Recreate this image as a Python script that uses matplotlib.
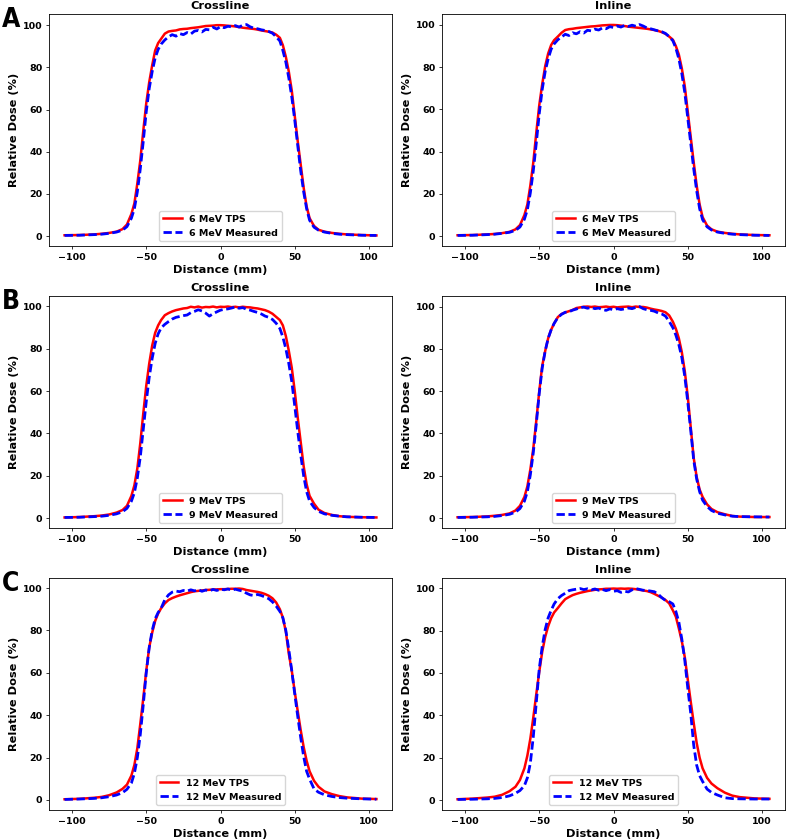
import matplotlib
matplotlib.use("Agg")
import matplotlib.pyplot as plt
from matplotlib import font_manager

# distance grid (mm) shared by every profile
dist_mm = [-105, -95, -85, -80, -75, -70, -66, -63, -60, -58, -56, -54, -52, -50, -48, -46, -44, -42, -40,
           -37.5, -35, -32.5, -30, -27.5, -25, -22.5, -20, -17.5, -15, -12.5, -10, -7.5, -5, -2.5, 0,
           2.5, 5, 7.5, 10, 12.5, 15, 17.5, 20, 22.5, 25, 27.5, 30, 32.5, 35, 37.5,
           40, 42, 44, 46, 48, 50, 52, 54, 56, 58, 60, 63, 66, 70, 75, 80, 85, 95, 105]

# 6 MeV
tps6_cross = [0.4, 0.5, 0.8, 1.1, 1.5, 2.1, 3.3, 5.5, 10.5, 15.5, 25, 36, 50, 63, 73, 81, 88, 91.5, 93.5,
              96, 97, 97.3, 97.5, 98, 98.2, 98.3, 98.6, 98.8, 99, 99.3, 99.6, 99.7, 99.8, 100, 100,
              99.9, 99.7, 99.6, 99.4, 99.1, 98.8, 98.6, 98.4, 98.2, 97.9, 97.5, 97.2, 96.9, 96.5, 95.5,
              94, 90.5, 85, 78, 69, 57, 45, 34, 23, 14, 8.5, 4.8, 3, 2.1, 1.5, 1.1, 0.8, 0.5, 0.3]
meas6_cross = [0.3, 0.4, 0.7, 0.9, 1.3, 1.9, 2.8, 4.5, 8.5, 13, 21, 32, 45, 59, 70, 78, 84.5, 88.5, 91,
               93, 94.5, 95.5, 94.8, 96, 95.5, 96.5, 95.8, 97.2, 97.5, 96.8, 98, 97.8, 99, 98.2, 99.3,
               98.8, 99.5, 99.2, 99.8, 99.1, 100, 100.3, 99.2, 98.6, 98.3, 97.8, 97.5, 97, 96.2, 94.5,
               92.5, 88, 82.5, 75, 66, 55, 43, 31, 21, 13, 7.5, 4.2, 2.8, 1.9, 1.3, 0.9, 0.7, 0.4, 0.3]
tps6_in = [0.4, 0.5, 0.8, 1.0, 1.4, 2.0, 3.2, 5.2, 10, 15, 24, 35, 49, 62, 72, 80.5, 86.5, 90.5, 92.8,
           94.5, 96.3, 97.6, 98, 98.2, 98.5, 98.7, 98.9, 99.1, 99.3, 99.4, 99.6, 99.8, 99.9, 100, 100,
           99.9, 99.7, 99.5, 99.2, 99, 98.8, 98.6, 98.4, 98.2, 97.9, 97.6, 97.2, 96.6, 95.8, 94.5,
           93, 90, 86, 79.5, 71, 59, 47, 35, 24, 15, 9, 5, 3.2, 2.1, 1.5, 1.1, 0.8, 0.5, 0.4]
meas6_in = [0.3, 0.4, 0.7, 0.9, 1.3, 1.8, 2.7, 4.3, 8, 12.5, 20.5, 31, 44, 58, 69.5, 78, 84, 88.5, 91,
            93, 94.3, 95.6, 95, 96.3, 95.8, 96.8, 96.2, 97.5, 97.2, 98, 97.6, 98.6, 98.2, 99.2, 98.8,
            99.5, 99, 99.8, 99.3, 99.9, 99.4, 100.2, 99.5, 98.6, 98.2, 97.7, 97.2, 96.8, 96, 94.5,
            92.5, 89, 84, 77, 68, 56, 44, 32, 21.5, 13, 7.8, 4.4, 2.9, 1.9, 1.3, 0.9, 0.7, 0.4, 0.3]

# 9 MeV
tps9_cross = [0.3, 0.5, 0.9, 1.2, 1.7, 2.6, 3.8, 5.8, 10.5, 15.5, 23.5, 35.5, 49.5, 62.5, 73, 81.5, 87.5, 91, 93.5,
              95.8, 96.8, 97.6, 98.2, 98.6, 99, 99.2, 99.8, 99.5, 99.9, 99.4, 99.7, 99.6, 99.9, 99.5, 99.8,
              99.7, 99.9, 99.6, 99.8, 99.5, 99.8, 99.6, 99.5, 99.2, 99, 98.6, 98.2, 97.5, 96.5, 95,
              93.5, 91, 86, 79, 71, 60, 47.5, 36, 24.5, 16, 10.5, 6.8, 4, 2.4, 1.5, 0.9, 0.6, 0.4, 0.3]
meas9_cross = [0.3, 0.4, 0.7, 0.9, 1.3, 2.0, 3.0, 4.6, 8, 12, 19, 29, 42, 55, 66.5, 75.5, 82.5, 87, 89.8,
               91.5, 92.8, 94, 94.8, 95.2, 95.6, 95.9, 97, 97.6, 98.4, 97.8, 96.8, 95.4, 96.5, 97.4, 98.2,
               98.6, 98.8, 99.2, 99.7, 99.1, 99.4, 98.6, 98.2, 97.6, 97.1, 96.4, 95.4, 94.8, 93.8, 92,
               89.5, 85.5, 80, 73, 64.5, 53, 41, 30, 20, 12.5, 8, 5, 3.2, 2, 1.3, 0.9, 0.6, 0.4, 0.3]
tps9_in = [0.4, 0.5, 0.8, 1.1, 1.5, 2.2, 3.6, 5.8, 10, 15, 23, 33, 46, 60, 72, 79, 85, 89, 92,
           95, 96.5, 97.2, 97.8, 98.4, 99.3, 99.6, 99.9, 100, 99.8, 100, 99.7, 99.8, 100, 99.7, 99.9,
           99.6, 99.8, 99.9, 100, 99.7, 100, 99.8, 99.8, 99.5, 99.0, 98.6, 98.3, 97.9, 97.3, 95.8,
           92.8, 89.5, 85, 78.5, 69.5, 57.5, 43, 28.5, 19.5, 13.5, 10, 6.5, 4.3, 2.8, 1.8, 1.0, 0.7, 0.5, 0.5]
meas9_in = [0.3, 0.4, 0.6, 0.8, 1.2, 1.8, 2.8, 4.5, 8, 12.5, 20.5, 31, 44.5, 59, 71, 79, 85, 89, 92,
            94.8, 96.3, 97.3, 97.5, 98.3, 98.8, 99.5, 99.7, 99.2, 99.6, 99.0, 99.3, 98.6, 98.2, 98.9, 98.5,
            99.0, 98.6, 98.9, 99.3, 99.0, 99.6, 100, 99.0, 98.5, 98.2, 97.8, 97.0, 96.5, 95.5, 93,
            90, 86.5, 82, 76, 67, 55, 41.5, 27.5, 18.5, 12.5, 8.5, 5.5, 3.6, 2.3, 1.5, 0.9, 0.7, 0.6, 0.5]

# 12 MeV
tps12_cross = [0.3, 0.5, 1.0, 1.4, 2.2, 3.5, 5.2, 7.2, 11.5, 16.5, 24.5, 36, 48, 61, 72, 79, 84.5, 88, 90.5,
               92.8, 94.4, 95.3, 96, 96.6, 97.1, 97.6, 98.1, 98.5, 98.7, 98.9, 99.1, 99.2, 99.3, 99.4, 99.5,
               99.5, 99.6, 99.7, 99.7, 99.8, 99.6, 99.1, 98.8, 98.5, 98.2, 97.8, 97.2, 96.4, 95.2, 93.2,
               90, 86, 79.5, 69, 61, 51, 42, 33, 25, 18.5, 13.5, 9, 6.2, 4, 2.7, 1.8, 1.2, 0.6, 0.4]
meas12_cross = [0.2, 0.4, 0.7, 1.0, 1.5, 2.3, 3.4, 5.0, 8.0, 12.5, 20, 31, 45, 60, 72, 80, 85.5, 88.5, 90.5,
                94.5, 96.8, 98.1, 98.6, 98.3, 98.9, 98.6, 99.2, 98.7, 99.3, 98.5, 99.1, 98.7, 99.4, 98.9, 99.5,
                99.2, 99.6, 99.0, 99.5, 99.0, 98.6, 97.6, 96.8, 96.5, 97.0, 96.5, 95.8, 95, 93.5, 91.5,
                89, 86, 80, 71, 61, 50, 39.5, 29.5, 20.5, 13.5, 9.8, 5.2, 3.6, 2.4, 1.6, 1.1, 0.8, 0.5, 0.3]
tps12_in = [0.4, 0.7, 1.2, 1.6, 2.5, 4.2, 6.3, 9.5, 15, 21, 29, 39, 50, 60.5, 70, 77, 82, 85.8, 88.5,
            90.6, 92.8, 94.8, 95.8, 96.7, 97.3, 97.8, 98.2, 98.6, 98.9, 99.2, 99.4, 99.5, 99.7, 99.7, 99.8,
            99.7, 99.8, 99.7, 99.8, 99.7, 99.5, 99.2, 98.9, 98.6, 98.1, 97.3, 96.4, 95.5, 94.4, 92.8,
            89.5, 86.5, 81, 75, 67.5, 57, 46.5, 36.5, 27, 20, 15, 10.5, 7.8, 5.6, 3.5, 2.1, 1.4, 0.8, 0.6]
meas12_in = [0.3, 0.4, 0.6, 0.8, 1.2, 2.0, 3.2, 4.5, 6.8, 10.5, 17.5, 30, 46, 62, 72.5, 80.5, 86, 89.5, 92.5,
             95, 96.5, 97.6, 98.8, 99.2, 99.5, 99.8, 99.3, 99.7, 99.2, 99.6, 99.0, 99.4, 98.8, 99.3, 98.5,
             98.8, 98.0, 98.5, 98.2, 99.2, 99.8, 99.4, 99.0, 98.9, 98.6, 98.3, 97.2, 95.5, 94.2, 93.6,
             92.5, 89, 84, 76, 66, 53, 41, 26, 16.5, 11.5, 8.8, 5.2, 3.6, 2.4, 1.1, 0.7, 0.6, 0.5, 0.5]

energies = [6, 9, 12]
profiles = [
    [(tps6_cross, meas6_cross), (tps6_in, meas6_in)],
    [(tps9_cross, meas9_cross), (tps9_in, meas9_in)],
    [(tps12_cross, meas12_cross), (tps12_in, meas12_in)],
]
titles = ['Crossline', 'Inline']
panel_letters = ['A', 'B', 'C']

plt.rcParams.update({
    'font.family': 'DejaVu Sans',
    'font.weight': 'bold',
    'axes.labelweight': 'bold',
    'axes.titleweight': 'bold',
    'axes.labelsize': 8.2,
    'axes.titlesize': 8.2,
    'xtick.labelsize': 6.8,
    'ytick.labelsize': 6.8,
    'xtick.major.size': 2.4,
    'ytick.major.size': 2.4,
    'xtick.major.width': 0.55,
    'ytick.major.width': 0.55,
    'xtick.major.pad': 2.4,
    'ytick.major.pad': 2.4,
    'axes.linewidth': 0.6,
    'axes.labelpad': 2.7,
    'legend.fontsize': 6.8,
})

names = {f.name for f in font_manager.fontManager.ttflist}
letter_font = 'Liberation Sans Narrow' if 'Liberation Sans Narrow' in names else 'DejaVu Sans'

W, H = 787, 839
fig = plt.figure(figsize=(W / 100, H / 100), dpi=100)

col_left = [49 / W, 442 / W]
row_top = [14, 296, 578]
ax_w, ax_h = 343 / W, 232 / H

for r, energy in enumerate(energies):
    for c in range(2):
        tps, meas = profiles[r][c]
        ax = fig.add_axes([col_left[c], 1 - (row_top[r] + 232) / H, ax_w, ax_h])
        ax.plot(dist_mm, tps, color='red', lw=1.8, label=f'{energy} MeV TPS')
        ax.plot(dist_mm, meas, color='blue', lw=2.0, ls=(0, (3.0, 1.3)), label=f'{energy} MeV Measured')
        ax.set_xticks([-100, -50, 0, 50, 100])
        ax.set_yticks([0, 20, 40, 60, 80, 100])
        ax.set_title(titles[c], pad=3.5)
        ax.set_xlabel('Distance (mm)')
        ax.set_ylabel('Relative Dose (%)')
        ax.legend(loc='lower center', prop={'weight': 'bold', 'size': 6.8})
    fig.text(11 / W, 1 - (row_top[r] + 6) / H, panel_letters[r], ha='center', va='center',
             fontsize=19, fontweight='bold', family=letter_font, fontstretch='condensed')

fig.savefig('out.png', dpi=100)
